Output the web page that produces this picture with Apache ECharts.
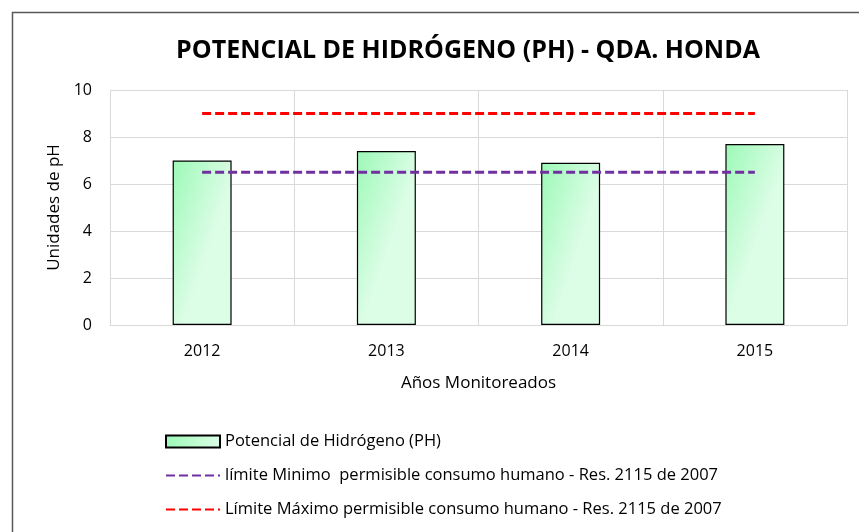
<!DOCTYPE html>
<html>
<head>
<meta charset="utf-8">
<script src="https://cdn.jsdelivr.net/npm/echarts@6/dist/echarts.min.js"></script>
<style>
  html, body { margin: 0; padding: 0; background: #fff; }
  #chart { width: 859px; height: 532px; }
</style>
</head>
<body>
<div id="chart"></div>
<script>
// datos
const years = ['2012', '2013', '2014', '2015'];
const phValues = [7.0, 7.4, 6.9, 7.7];
const limiteMinimo = [6.5, 6.5, 6.5, 6.5];
const limiteMaximo = [9, 9, 9, 9];
const nombres = [
    'Potencial de Hidrógeno (PH)',
    'límite Minimo  permisible consumo humano - Res. 2115 de 2007',
    'Límite Máximo permisible consumo humano - Res. 2115 de 2007'
];

const fuente = '"Open Sans", "Noto Sans", sans-serif';
const chart = echarts.init(document.getElementById('chart'));

const option = {
    animation: false,
    textStyle: { fontFamily: fuente },
    title: {
        text: 'POTENCIAL DE HIDRÓGENO (PH) - QDA. HONDA',
        left: 463,
        top: 33,
        textAlign: 'center',
        textStyle: { fontSize: 25, fontWeight: 'bold', color: '#000', fontFamily: fuente }
    },
    graphic: [{
        type: 'rect',
        shape: { x: 12.5, y: 12.5, width: 900, height: 600 },
        style: { fill: 'none', stroke: '#595959', lineWidth: 1.5 },
        silent: true
    }],
    grid: { left: 110, right: 12, top: 90, bottom: 207 },
    legend: {
        orient: 'vertical',
        left: 160,
        top: 428,
        width: 680,
        height: 110,
        itemWidth: 54,
        itemHeight: 12,
        itemGap: 17,
        textStyle: { fontSize: 16.5, color: '#000' },
        data: [
            { name: nombres[0], icon: 'rect' },
            { name: nombres[1], itemStyle: { opacity: 0 } },
            { name: nombres[2], itemStyle: { opacity: 0 } }
        ]
    },
    xAxis: {
        type: 'category',
        data: years,
        name: 'Años Monitoreados',
        nameLocation: 'middle',
        nameGap: 50,
        nameTextStyle: { fontSize: 17, color: '#000' },
        axisLine: { lineStyle: { color: '#d9d9d9', width: 1 } },
        axisTick: { show: false },
        axisLabel: { fontSize: 16, color: '#000', margin: 18 },
        splitLine: { show: true, lineStyle: { color: '#d9d9d9', width: 1 } }
    },
    yAxis: {
        type: 'value',
        min: 0,
        max: 10,
        interval: 2,
        name: 'Unidades de pH',
        nameLocation: 'middle',
        nameGap: 46,
        nameTextStyle: { fontSize: 17, color: '#000' },
        axisLine: { show: false },
        axisTick: { show: false },
        axisLabel: { fontSize: 16, color: '#000', margin: 18 },
        splitLine: { lineStyle: { color: '#d9d9d9', width: 1 } }
    },
    series: [
        {
            name: nombres[0],
            type: 'bar',
            data: phValues,
            barWidth: '32%',
            itemStyle: {
                color: new echarts.graphic.LinearGradient(0, 0, 1, 0.12, [
                    { offset: 0, color: '#9cf9b7' },
                    { offset: 1, color: '#dcfde6' }
                ]),
                borderColor: '#000',
                borderWidth: 1.2
            }
        },
        {
            name: nombres[1],
            type: 'line',
            data: limiteMinimo,
            symbol: 'none',
            itemStyle: { color: '#7030a0' },
            lineStyle: { color: '#7030a0', width: 3, type: [9, 4] }
        },
        {
            name: nombres[2],
            type: 'line',
            data: limiteMaximo,
            symbol: 'none',
            itemStyle: { color: '#ff0000' },
            lineStyle: { color: '#ff0000', width: 3, type: [9, 4] }
        }
    ]
};

chart.setOption(option);
</script>
</body>
</html>
